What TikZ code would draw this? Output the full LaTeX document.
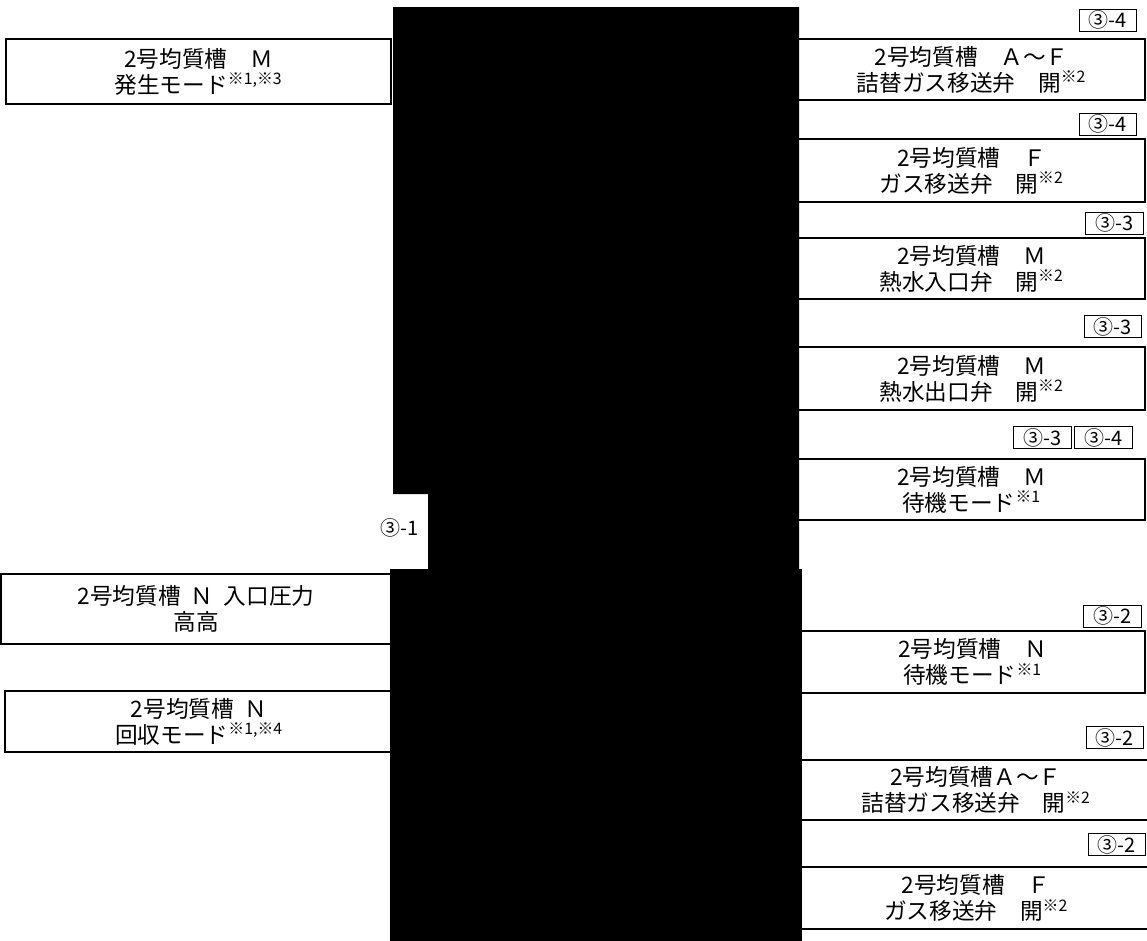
\documentclass[tikz,border=0pt]{standalone}
\usepackage{fontspec}
\newfontfamily\jpfont{Noto Sans CJK JP}
\usepackage{tikz}
\usetikzlibrary{positioning}

\begin{document}
\begin{tikzpicture}[
    x=0.75pt, y=-0.75pt,
    box/.style={rectangle, draw=black, line width=0.9pt, fill=white, text centered, align=center, inner sep=0pt, minimum height=46.5pt, font=\jpfont\fontsize{17}{19.5}\selectfont},
    lbox/.style={box, minimum width=290pt},
    rbox/.style={box, minimum width=260.25pt},
    tag/.style={rectangle, draw=black, line width=0.7pt, fill=white, inner sep=0.5pt, minimum width=43pt, minimum height=16.5pt, font=\jpfont\fontsize{15}{16}\selectfont},
    label3/.style={inner sep=0pt, font=\jpfont\fontsize{15}{16}\selectfont},
    blackout/.style={fill=black}
]
\useasboundingbox (0,0) rectangle (1147,940);
\clip (0,0) rectangle (1147,940);

% Left boxes
\node (genM) [lbox, minimum width=288.75pt, minimum height=48.75pt] at (198.5,71.5) {2号均質槽　Ｍ\\発生モード\textsuperscript{※1,※3}};
\node (pressN) [lbox, minimum width=292.5pt, minimum height=52.5pt] at (196,609) {2号均質槽\hspace{0.45em}Ｎ\hspace{0.45em}入口圧力\\高高};
\node (recN) [lbox, minimum width=291pt, minimum height=45.75pt] at (199,721.5) {2号均質槽\hspace{0.45em}Ｎ\\回収モード\textsuperscript{※1,※4}};

% Right boxes
\node (refillM) [rbox, minimum height=45.75pt] at (971.5,69.5) {2号均質槽　Ａ～Ｆ\\詰替ガス移送弁　開\textsuperscript{※2}};
\node (gasM) [rbox, minimum height=47.25pt] at (971.5,170.5) {2号均質槽　Ｆ\\ガス移送弁　開\textsuperscript{※2}};
\node (hotin) [rbox, minimum height=45.75pt] at (971.5,268.5) {2号均質槽　Ｍ\\熱水入口弁　開\textsuperscript{※2}};
\node (hotout) [rbox, minimum height=47.25pt] at (971.5,378.5) {2号均質槽　Ｍ\\熱水出口弁　開\textsuperscript{※2}};
\node (waitM) [rbox, minimum height=45.75pt] at (971.5,489.5) {2号均質槽　Ｍ\\待機モード\textsuperscript{※1}};
\node (waitN) [rbox, minimum width=258.75pt, minimum height=46.5pt] at (972.5,662) {2号均質槽　Ｎ\\待機モード\textsuperscript{※1}};
\node (refillN) [rbox, minimum width=264pt, minimum height=45pt] at (976,790) {2号均質槽Ａ～Ｆ\\詰替ガス移送弁　開\textsuperscript{※2}};
\node (gasN) [rbox, minimum width=264pt, minimum height=46.5pt] at (976,898) {2号均質槽　Ｆ\\ガス移送弁　開\textsuperscript{※2}};

% Tags
\node (tagA) [tag] at (1108,20) {③-4};
\node (tagB) [tag] at (1108,124) {③-4};
\node (tagC) [tag] at (1114.5,223) {③-3};
\node (tagD) [tag] at (1113,326.5) {③-3};
\node (tagE) [tag] at (1042.5,437.5) {③-3};
\node (tagF) [tag, right=2pt of tagE] {③-4};
\node (tagG) [tag] at (1112.5,616) {③-2};
\node (tagH) [tag] at (1115,737.5) {③-2};
\node (tagI) [tag] at (1117,844.5) {③-2};
\node (step1) [label3] at (400,528) {③-1};

% Blocked areas
\fill [blackout] (393,7) -- (799,7) -- (799,569) -- (428,569) -- (428,494) -- (393,494) -- cycle;
\fill [blackout] (390,569) rectangle (802,945);

\end{tikzpicture}
\end{document}
